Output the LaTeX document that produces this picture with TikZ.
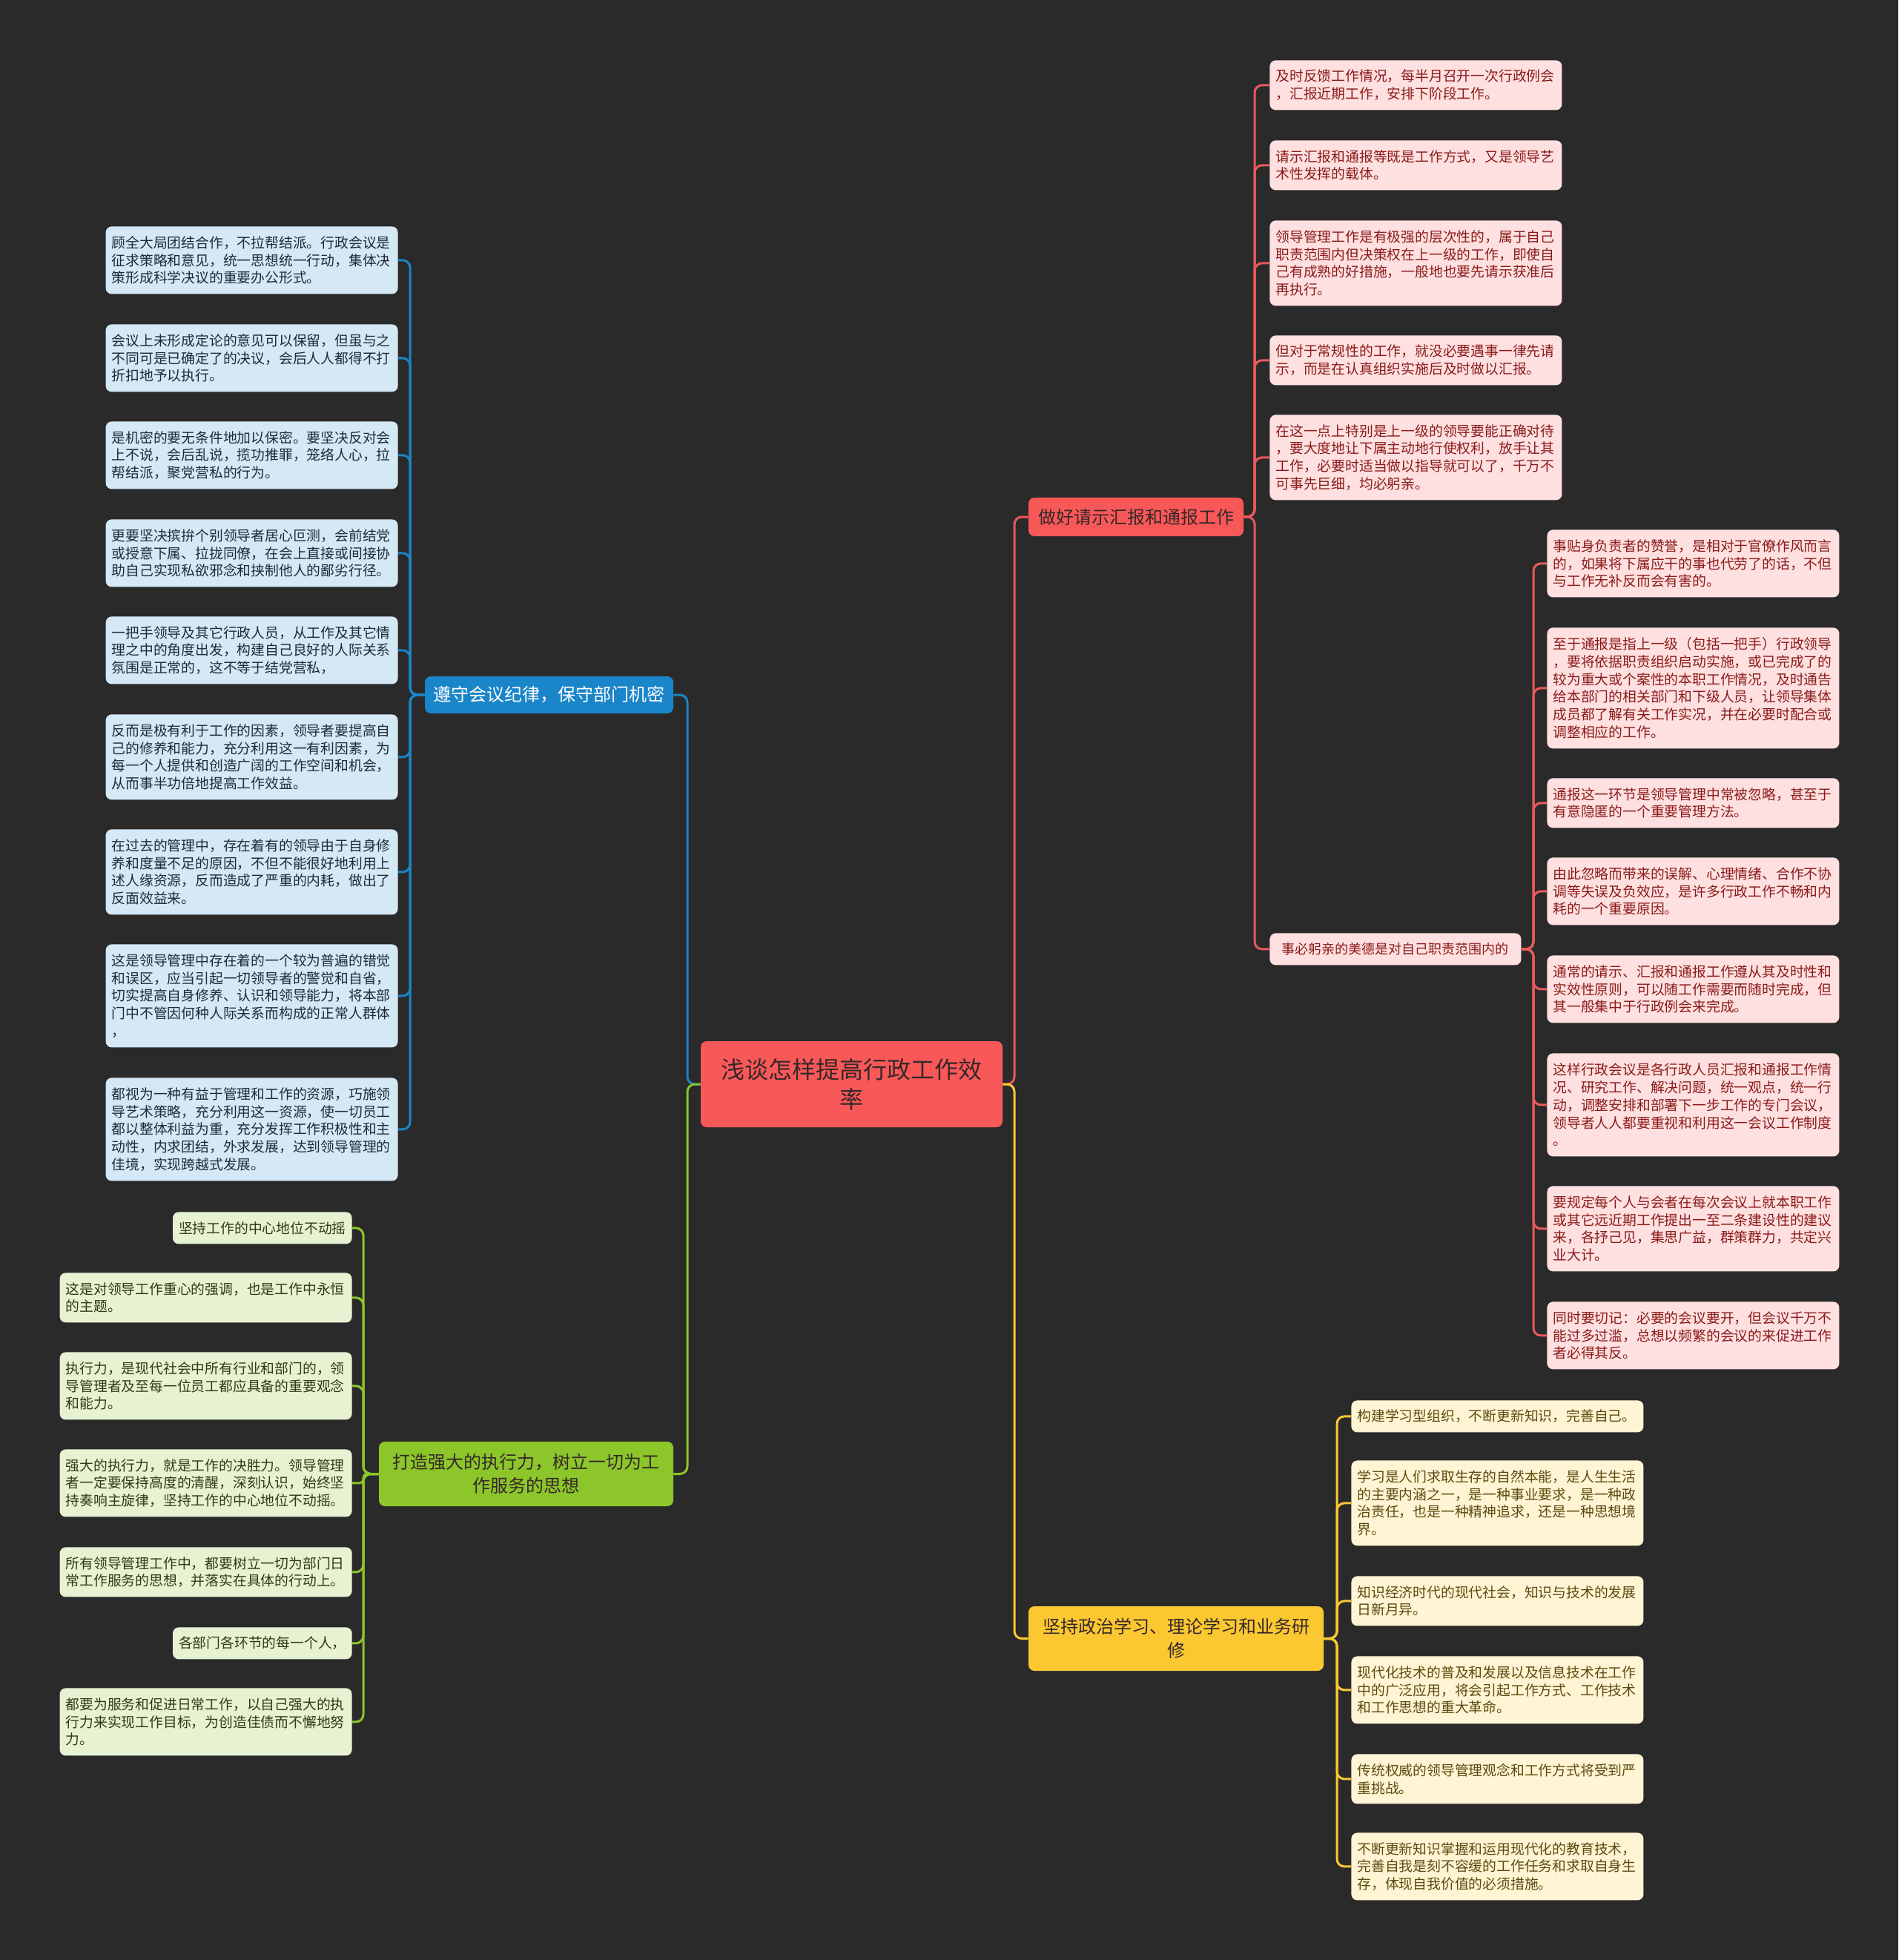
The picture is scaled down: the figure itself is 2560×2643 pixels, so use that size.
\documentclass[tikz,border=0pt]{standalone}
\usepackage{fontspec}
\newfontfamily\cjk{Noto Sans CJK SC}
\definecolor{bgc}{HTML}{2A2A2A}
\definecolor{centerc}{HTML}{F95859}
\definecolor{bluec}{HTML}{1A85C8}
\definecolor{greenc}{HTML}{8CC62A}
\definecolor{redc}{HTML}{F95859}
\definecolor{redline}{HTML}{E85A5B}
\definecolor{yelc}{HTML}{FCC832}
\definecolor{darktext}{HTML}{352828}
\definecolor{bleafc}{HTML}{D4E8F6}
\definecolor{btextc}{HTML}{1F2A36}
\definecolor{gleafc}{HTML}{E6F2D2}
\definecolor{gtextc}{HTML}{2E3A1A}
\definecolor{rleafc}{HTML}{FFE0E0}
\definecolor{rtextc}{HTML}{8B1A1A}
\definecolor{yleafc}{HTML}{FFF4D4}
\definecolor{ytextc}{HTML}{5C4A0E}
\tikzset{
  leafbase/.style={rounded corners=4pt, inner xsep=4pt, inner ysep=0pt,
    font=\cjk\fontsize{9.4}{11.85}\selectfont, align=left},
  wide/.style={text width=189pt},
  bleaf/.style={leafbase, fill=bleafc, text=btextc, anchor=north east},
  gleaf/.style={leafbase, fill=gleafc, text=gtextc, anchor=north east},
  rleaf/.style={leafbase, fill=rleafc, text=rtextc, anchor=north west},
  yleaf/.style={leafbase, fill=yleafc, text=ytextc, anchor=north west},
  ln1/.style={minimum height=21.5pt},
  ln2/.style={minimum height=33.5pt},
  ln3/.style={minimum height=45.5pt},
  ln4/.style={minimum height=57.5pt},
  ln5/.style={minimum height=69.5pt},
  ln6/.style={minimum height=81.5pt},
  branch/.style={rounded corners=4pt, inner sep=0pt, align=center,
    font=\cjk\fontsize{12}{16}\selectfont},
  con/.style={line width=1.5pt, rounded corners=5pt},
}
\begin{document}
\begin{tikzpicture}[x=0.5pt,y=-0.5pt]
\fill[bgc] (0,0) rectangle (2560,2643);
\useasboundingbox (0,0) rectangle (2560,2643);

% bus coordinates
\coordinate (cl) at (927,0);
\coordinate (cr) at (1368,0);
\coordinate (bb) at (553,0);
\coordinate (gb) at (490,0);
\coordinate (rb) at (1692,0);
\coordinate (rb2) at (2068,0);
\coordinate (yb) at (1803,0);

% center and branches
\node[rounded corners=4pt, fill=centerc, text=darktext, align=center,
  minimum width=203.5pt, minimum height=58pt, inner sep=0pt,
  font=\cjk\fontsize{16}{20}\selectfont] (c) at (1148.5,1462)
  {浅谈怎样提高行政工作效\\率};
\node[branch, fill=bluec, text=white, minimum width=167.5pt, minimum height=25pt]
  (b) at (740.5,937) {遵守会议纪律，保守部门机密};
\node[branch, fill=greenc, text=darktext, minimum width=198.5pt, minimum height=43.5pt]
  (g) at (709.5,1987.5) {打造强大的执行力，树立一切为工\\作服务的思想};
\node[branch, fill=redc, text=darktext, minimum width=145pt, minimum height=26pt]
  (r) at (1532,697) {做好请示汇报和通报工作};
\node[branch, fill=yelc, text=darktext, minimum width=199pt, minimum height=43.5pt]
  (y) at (1586,2209.5) {坚持政治学习、理论学习和业务研\\修};

% blue leaves
\node[bleaf, wide, ln3] (b1) at (537,305) {顾全大局团结合作，不拉帮结派。行政会议是\\征求策略和意见，统一思想统一行动，集体决\\策形成科学决议的重要办公形式。};
\node[bleaf, wide, ln3] (b2) at (537,437) {会议上未形成定论的意见可以保留，但虽与之\\不同可是已确定了的决议，会后人人都得不打\\折扣地予以执行。};
\node[bleaf, wide, ln3] (b3) at (537,568) {是机密的要无条件地加以保密。要坚决反对会\\上不说，会后乱说，揽功推罪，笼络人心，拉\\帮结派，聚党营私的行为。};
\node[bleaf, wide, ln3] (b4) at (537,700) {更要坚决摈拚个别领导者居心叵测，会前结党\\或授意下属、拉拢同僚，在会上直接或间接协\\助自己实现私欲邪念和挟制他人的鄙劣行径。};
\node[bleaf, wide, ln3] (b5) at (537,831) {一把手领导及其它行政人员，从工作及其它情\\理之中的角度出发，构建自己良好的人际关系\\氛围是正常的，这不等于结党营私，};
\node[bleaf, wide, ln4] (b6) at (537,963) {反而是极有利于工作的因素，领导者要提高自\\己的修养和能力，充分利用这一有利因素，为\\每一个人提供和创造广阔的工作空间和机会，\\从而事半功倍地提高工作效益。};
\node[bleaf, wide, ln4] (b7) at (537,1118) {在过去的管理中，存在着有的领导由于自身修\\养和度量不足的原因，不但不能很好地利用上\\述人缘资源，反而造成了严重的内耗，做出了\\反面效益来。};
\node[bleaf, wide, ln5] (b8) at (537,1273) {这是领导管理中存在着的一个较为普遍的错觉\\和误区，应当引起一切领导者的警觉和自省，\\切实提高自身修养、认识和领导能力，将本部\\门中不管因何种人际关系而构成的正常人群体\\，};
\node[bleaf, wide, ln5] (b9) at (537,1453) {都视为一种有益于管理和工作的资源，巧施领\\导艺术策略，充分利用这一资源，使一切员工\\都以整体利益为重，充分发挥工作积极性和主\\动性，内求团结，外求发展，达到领导管理的\\佳境，实现跨越式发展。};

% green leaves
\node[gleaf, ln1] (g1) at (475,1634) {坚持工作的中心地位不动摇};
\node[gleaf, wide, ln2] (g2) at (475,1716) {这是对领导工作重心的强调，也是工作中永恒\\的主题。};
\node[gleaf, wide, ln3] (g3) at (475,1823) {执行力，是现代社会中所有行业和部门的，领\\导管理者及至每一位员工都应具备的重要观念\\和能力。};
\node[gleaf, wide, ln3] (g4) at (475,1954) {强大的执行力，就是工作的决胜力。领导管理\\者一定要保持高度的清醒，深刻认识，始终坚\\持奏响主旋律，坚持工作的中心地位不动摇。};
\node[gleaf, wide, ln2] (g5) at (475,2086) {所有领导管理工作中，都要树立一切为部门日\\常工作服务的思想，并落实在具体的行动上。};
\node[gleaf, ln1] (g6) at (475,2194) {各部门各环节的每一个人，};
\node[gleaf, wide, ln3] (g7) at (475,2276) {都要为服务和促进日常工作，以自己强大的执\\行力来实现工作目标，为创造佳债而不懈地努\\力。};

% red leaves level 1
\node[rleaf, wide, ln2] (r1) at (1712,81) {及时反馈工作情况，每半月召开一次行政例会\\，汇报近期工作，安排下阶段工作。};
\node[rleaf, wide, ln2] (r2) at (1712,189) {请示汇报和通报等既是工作方式，又是领导艺\\术性发挥的载体。};
\node[rleaf, wide, ln4] (r3) at (1712,297) {领导管理工作是有极强的层次性的，属于自己\\职责范围内但决策权在上一级的工作，即使自\\己有成熟的好措施，一般地也要先请示获准后\\再执行。};
\node[rleaf, wide, ln2] (r4) at (1712,452) {但对于常规性的工作，就没必要遇事一律先请\\示，而是在认真组织实施后及时做以汇报。};
\node[rleaf, wide, ln4] (r5) at (1712,559) {在这一点上特别是上一级的领导要能正确对待\\，要大度地让下属主动地行使权利，放手让其\\工作，必要时适当做以指导就可以了，千万不\\可事先巨细，均必躬亲。};
\node[rleaf, ln1, inner xsep=3.75pt, minimum width=169.5pt, font=\cjk\fontsize{9}{11}\selectfont] (rs) at (1712,1258) {事必躬亲的美德是对自己职责范围内的};

% red leaves level 2
\node[rleaf, wide, ln3] (s1) at (2086,714) {事贴身负责者的赞誉，是相对于官僚作风而言\\的，如果将下属应干的事也代劳了的话，不但\\与工作无补反而会有害的。};
\node[rleaf, wide, ln6] (s2) at (2086,846) {至于通报是指上一级（包括一把手）行政领导\\，要将依据职责组织启动实施，或已完成了的\\较为重大或个案性的本职工作情况，及时通告\\给本部门的相关部门和下级人员，让领导集体\\成员都了解有关工作实况，并在必要时配合或\\调整相应的工作。};
\node[rleaf, wide, ln2] (s3) at (2086,1049) {通报这一环节是领导管理中常被忽略，甚至于\\有意隐匿的一个重要管理方法。};
\node[rleaf, wide, ln3] (s4) at (2086,1156) {由此忽略而带来的误解、心理情绪、合作不协\\调等失误及负效应，是许多行政工作不畅和内\\耗的一个重要原因。};
\node[rleaf, wide, ln3] (s5) at (2086,1288) {通常的请示、汇报和通报工作遵从其及时性和\\实效性原则，可以随工作需要而随时完成，但\\其一般集中于行政例会来完成。};
\node[rleaf, wide, ln5] (s6) at (2086,1420) {这样行政会议是各行政人员汇报和通报工作情\\况、研究工作、解决问题，统一观点，统一行\\动，调整安排和部署下一步工作的专门会议，\\领导者人人都要重视和利用这一会议工作制度\\。};
\node[rleaf, wide, ln4] (s7) at (2086,1599) {要规定每个人与会者在每次会议上就本职工作\\或其它远近期工作提出一至二条建设性的建议\\来，各抒己见，集思广益，群策群力，共定兴\\业大计。};
\node[rleaf, wide, ln3] (s8) at (2086,1755) {同时要切记：必要的会议要开，但会议千万不\\能过多过滥，总想以频繁的会议的来促进工作\\者必得其反。};

% yellow leaves
\node[yleaf, wide, ln1] (y1) at (1822,1888) {构建学习型组织，不断更新知识，完善自己。};
\node[yleaf, wide, ln4] (y2) at (1822,1969) {学习是人们求取生存的自然本能，是人生生活\\的主要内涵之一，是一种事业要求，是一种政\\治责任，也是一种精神追求，还是一种思想境\\界。};
\node[yleaf, wide, ln2] (y3) at (1822,2125) {知识经济时代的现代社会，知识与技术的发展\\日新月异。};
\node[yleaf, wide, ln3] (y4) at (1822,2233) {现代化技术的普及和发展以及信息技术在工作\\中的广泛应用，将会引起工作方式、工作技术\\和工作思想的重大革命。};
\node[yleaf, wide, ln2] (y5) at (1822,2365) {传统权威的领导管理观念和工作方式将受到严\\重挑战。};
\node[yleaf, wide, ln3] (y6) at (1822,2471) {不断更新知识掌握和运用现代化的教育技术，\\完善自我是刻不容缓的工作任务和求取自身生\\存，体现自我价值的必须措施。};

% connectors: center to branches
\draw[con, draw=bluec] (c.west) -- (c.west -| cl) -- (cl |- b.east) -- (b.east);
\draw[con, draw=greenc] (c.west) -- (c.west -| cl) -- (cl |- g.east) -- (g.east);
\draw[con, draw=redline] (c.east) -- (c.east -| cr) -- (cr |- r.west) -- (r.west);
\draw[con, draw=yelc] (c.east) -- (c.east -| cr) -- (cr |- y.west) -- (y.west);

% blue
\foreach \i in {1,...,9}
  \draw[con, draw=bluec] (b.west) -- (b.west -| bb) -- (bb |- b\i.east) -- (b\i.east);
% green
\foreach \i in {1,2,3,5,6,7}
  \draw[con, draw=greenc] (g.west) -- (g.west -| gb) -- (gb |- g\i.east) -- (g\i.east);
\draw[con, draw=greenc, rounded corners=2.5pt] (g.west) -- (g.west -| gb) -- (gb |- g4.east) -- (g4.east);
% red level 1
\foreach \n in {r1,r2,r3,r4,r5,rs}
  \draw[con, draw=redline] (r.east) -- (r.east -| rb) -- (rb |- \n.west) -- (\n.west);
% red level 2
\foreach \i in {1,...,8}
  \draw[con, draw=redline] (rs.east) -- (rs.east -| rb2) -- (rb2 |- s\i.west) -- (s\i.west);
% yellow
\foreach \i in {1,...,6}
  \draw[con, draw=yelc] (y.east) -- (y.east -| yb) -- (yb |- y\i.west) -- (y\i.west);
\end{tikzpicture}
\end{document}
